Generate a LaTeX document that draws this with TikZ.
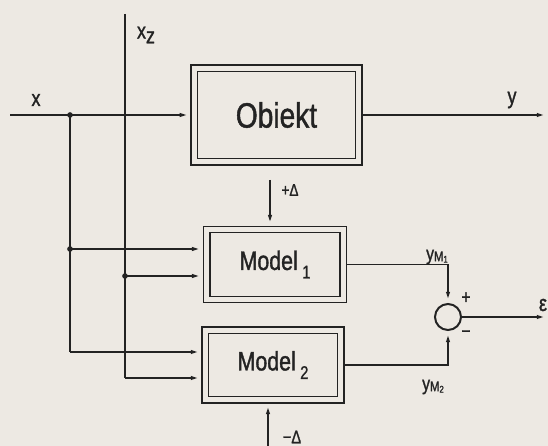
\documentclass[tikz,border=0pt]{standalone}
\usepackage{fontspec}
\setmainfont[FakeStretch=0.8, FakeBold=1.2]{Liberation Sans}
\usetikzlibrary{arrows.meta}
\definecolor{paper}{RGB}{237,233,227}
\definecolor{ink}{RGB}{35,35,35}
\tikzset{
  block/.style={draw=ink, line width=1.1pt, double=paper, double distance=3.4pt,
    outer sep=2.4pt, inner sep=0pt, text=ink},
  sig/.style={draw=ink, line width=1.4pt},
  arr/.style={sig, -{Latex[length=8pt,width=3pt]}},
  lbl/.style={text=ink, font=\fontsize{16}{18}\selectfont, inner sep=1pt},
  junction/.style={circle, fill=ink, minimum size=4pt, inner sep=0pt},
}
\newcommand{\modelname}[1]{Model\,\raisebox{-0.6ex}{\fontsize{13}{14}\selectfont #1}}
\newcommand{\ymodel}[1]{y\raisebox{-0.1ex}{\fontsize{10}{11}\selectfont M\raisebox{-0.2ex}{\fontsize{7}{8}\selectfont #1}}}
\begin{document}
\begin{tikzpicture}[x=0.025cm, y=-0.025cm]
  \fill[paper] (0,0) rectangle (548,446);
  \useasboundingbox (0,0) rectangle (548,446);

  % blocks
  \node[block, minimum width=4.11cm, minimum height=2.33cm,
    font=\fontsize{25}{28}\selectfont] (obiekt) at (276.5,115) {Obiekt};
  \node[block, minimum width=3.42cm, minimum height=1.75cm,
    font=\fontsize{19}{22}\selectfont] (m1) at (275,264.5) {\modelname{1}};
  \node[block, minimum width=3.38cm, minimum height=1.73cm,
    font=\fontsize{19}{22}\selectfont] (m2) at (273,365) {\modelname{2}};
  \node[circle, draw=ink, line width=1.4pt, minimum size=0.65cm, inner sep=0pt] (sum) at (448,317) {};

  % free ends and branch points
  \coordinate (xin) at (10,115);
  \coordinate (yout) at (548,115);
  \coordinate (xsplit) at (70,115);
  \coordinate (xtap) at (70,249);
  \coordinate (xcorner) at (70,352);
  \coordinate (ztop) at (125,14);
  \coordinate (ztap) at (125,276);
  \coordinate (zcorner) at (125,378);
  \coordinate (dplus) at (270,180);
  \coordinate (dminus) at (268,446);
  \coordinate (eout) at (548,317);

  % plant
  \draw[arr] (xin) -- (obiekt.west);
  \draw[arr] (obiekt.east) -- (yout);

  % x to the models
  \draw[sig] (xsplit) -- (xcorner);
  \draw[arr] (xtap) -- (xtap -| m1.west);
  \draw[arr] (xcorner) -- (xcorner -| m2.west);

  % x_z to the models
  \draw[sig] (ztop) -- (zcorner);
  \draw[arr] (ztap) -- (ztap -| m1.west);
  \draw[arr] (zcorner) -- (zcorner -| m2.west);

  % test steps
  \draw[arr] (dplus) -- (dplus |- m1.north);
  \draw[arr] (dminus) -- (dminus |- m2.south);

  % comparison
  \draw[arr] (m1.east) -| (sum.north);
  \draw[arr] (m2.east) -| (sum.south);
  \draw[arr] (sum.east) -- (eout);

  \node[junction] at (xsplit) {};
  \node[junction] at (xtap) {};
  \node[junction] at (ztap) {};

  % labels
  \node[lbl] (xlabel) at (36,100) {x};
  \node[lbl] (xzlabel) at (146,35) {x\raisebox{-0.4ex}{z}};
  \node[lbl] (ylabel) at (512,100) {y};
  \node[lbl, font=\fontsize{12}{14}\selectfont] (dpluslabel) at (290,190) {+Δ};
  \node[lbl, font=\fontsize{13}{15}\selectfont] (dminuslabel) at (292,437) {−Δ};
  \node[lbl, font=\fontsize{14}{16}\selectfont] (ym1label) at (437,257) {\ymodel{1}};
  \node[lbl, font=\fontsize{14}{16}\selectfont] (ym2label) at (433,387) {\ymodel{2}};
  \node[lbl, font=\fontsize{14}{16}\selectfont] (pluslabel) at (466,298) {+};
  \node[lbl, font=\fontsize{14}{16}\selectfont] (minuslabel) at (466,334) {−};
  \node[lbl] (elabel) at (543,305) {ε};
\end{tikzpicture}
\end{document}
